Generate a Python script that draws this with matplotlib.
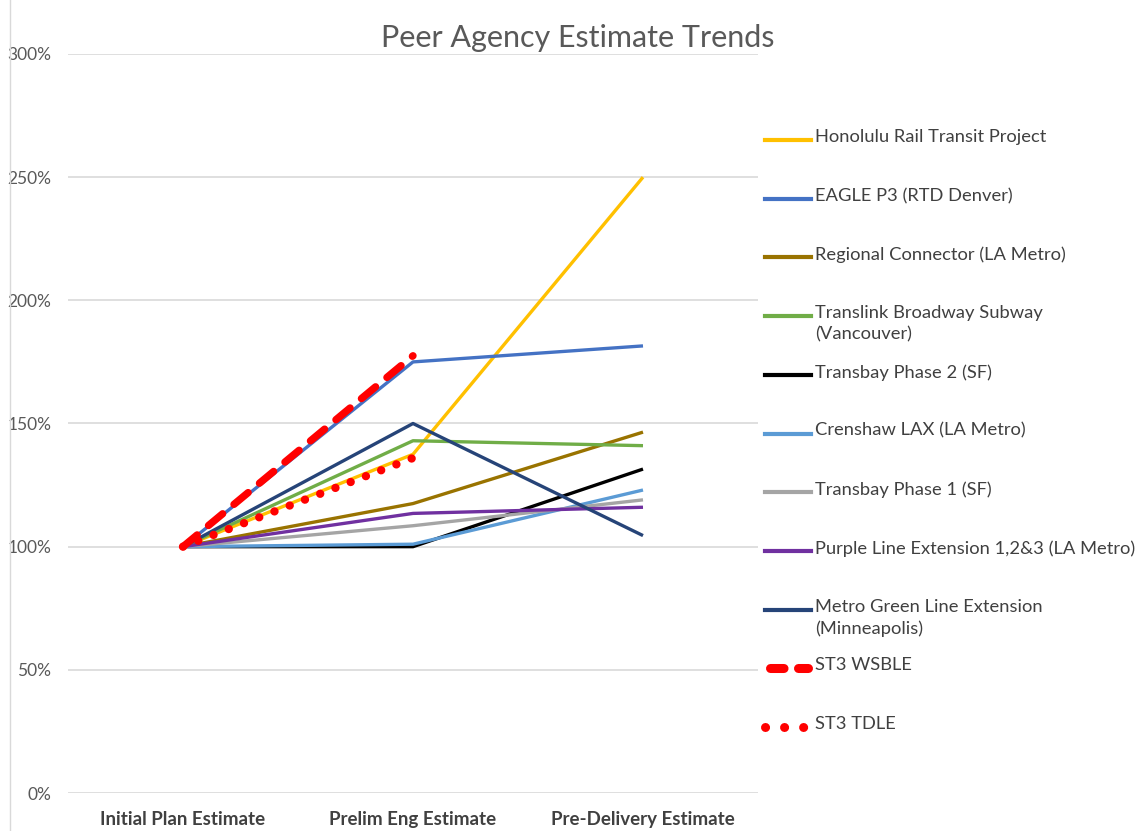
import matplotlib
matplotlib.use("Agg")
import matplotlib.pyplot as plt
from matplotlib.lines import Line2D
from matplotlib.ticker import FuncFormatter

plt.rcParams['font.family'] = ['Lato', 'DejaVu Sans']

stages = ['Initial Plan Estimate', 'Prelim Eng Estimate', 'Pre-Delivery Estimate']

names = [
    'Honolulu Rail Transit Project',
    'EAGLE P3 (RTD Denver)',
    'Regional Connector (LA Metro)',
    'Translink Broadway Subway\n(Vancouver)',
    'Transbay Phase 2 (SF)',
    'Crenshaw LAX (LA Metro)',
    'Transbay Phase 1 (SF)',
    'Purple Line Extension 1,2&3 (LA Metro)',
    'Metro Green Line Extension\n(Minneapolis)',
    'ST3 WSBLE',
    'ST3 TDLE',
]

honolulu = [1.00, 1.375, 2.50]
eagle = [1.00, 1.75, 1.815]
regional = [1.00, 1.175, 1.465]
translink = [1.00, 1.43, 1.41]
transbay2 = [1.00, 1.00, 1.315]
crenshaw = [1.00, 1.01, 1.23]
transbay1 = [1.00, 1.085, 1.19]
purple = [1.00, 1.135, 1.16]
green_line = [1.00, 1.50, 1.045]
wsble = [1.00, 1.775]
tdle = [1.00, 1.36]

series = [honolulu, eagle, regional, translink, transbay2, crenshaw,
          transbay1, purple, green_line, wsble, tdle]
colors = ['#FFC000', '#4472C4', '#997300', '#70AD47', '#000000', '#5B9BD5',
          '#A5A5A5', '#7030A0', '#264478', '#FF0000', '#FF0000']

W, H = 1143, 831
fig = plt.figure(figsize=(W / 100, H / 100), dpi=100)
ax = fig.add_axes([68 / W, 1 - 793 / H, 690 / W, (793 - 54) / H])

def fx(px):
    return px / W

def fy(py):
    return 1 - py / H

x = list(range(len(stages)))
for i, (vals, c) in enumerate(zip(series, colors)):
    if names[i] == 'ST3 WSBLE':
        kw = dict(lw=5.3, linestyle=(0, (2.5, 2.0)), dash_capstyle='round')
    elif names[i] == 'ST3 TDLE':
        kw = dict(lw=6.0, linestyle=(0, (0.01, 1.95)), dash_capstyle='round')
    else:
        kw = dict(lw=2.4, solid_capstyle='butt')
    ax.plot(x[:len(vals)], vals, color=c, zorder=3 + i, **kw)

ax.set_xlim(-0.5, 2.5)
ax.set_ylim(0, 3)
ax.set_yticks([0, 0.5, 1, 1.5, 2, 2.5, 3])
ax.yaxis.set_major_formatter(FuncFormatter(lambda v, p: f'{v * 100:.0f}%'))
ax.set_xticks(x)
ax.set_xticklabels(stages, fontweight='bold', fontsize=13.5, color='#404040')
ax.tick_params(axis='y', length=0, labelsize=12.5, labelcolor='#595959', pad=12)
ax.tick_params(axis='x', length=0, pad=13)
ax.grid(axis='y', color='#D9D9D9', lw=1.2)
ax.set_axisbelow(True)
for s in ax.spines.values():
    s.set_visible(False)

fig.text(fx(578), fy(38), 'Peer Agency Estimate Trends', ha='center', va='center',
         fontsize=22, color='#595959')

fig.add_artist(Line2D([fx(10), fx(10)], [0, 1], color='#D9D9D9', lw=1))

# legend drawn by hand to mimic the spread-out Excel layout
y0, step = 140, 58.7
for i, (name, c) in enumerate(zip(names, colors)):
    yy = fy(y0 + i * step)
    if name == 'ST3 WSBLE':
        hkw = dict(lw=6.5, linestyle=(0, (1.5, 1.6)), dash_capstyle='round')
        xs = [fx(770), fx(808)]
    elif name == 'ST3 TDLE':
        hkw = dict(lw=6.5, linestyle=(0, (0.01, 2.1)), dash_capstyle='round')
        xs = [fx(765), fx(806)]
    else:
        hkw = dict(lw=3)
        xs = [fx(765), fx(811)]
    fig.add_artist(Line2D(xs, [yy, yy], color=c, **hkw))
    fig.text(fx(815), yy + 0.013, name, ha='left', va='top', fontsize=13.2,
             color='#404040', linespacing=1.4)

fig.savefig('out.png', dpi=100)
